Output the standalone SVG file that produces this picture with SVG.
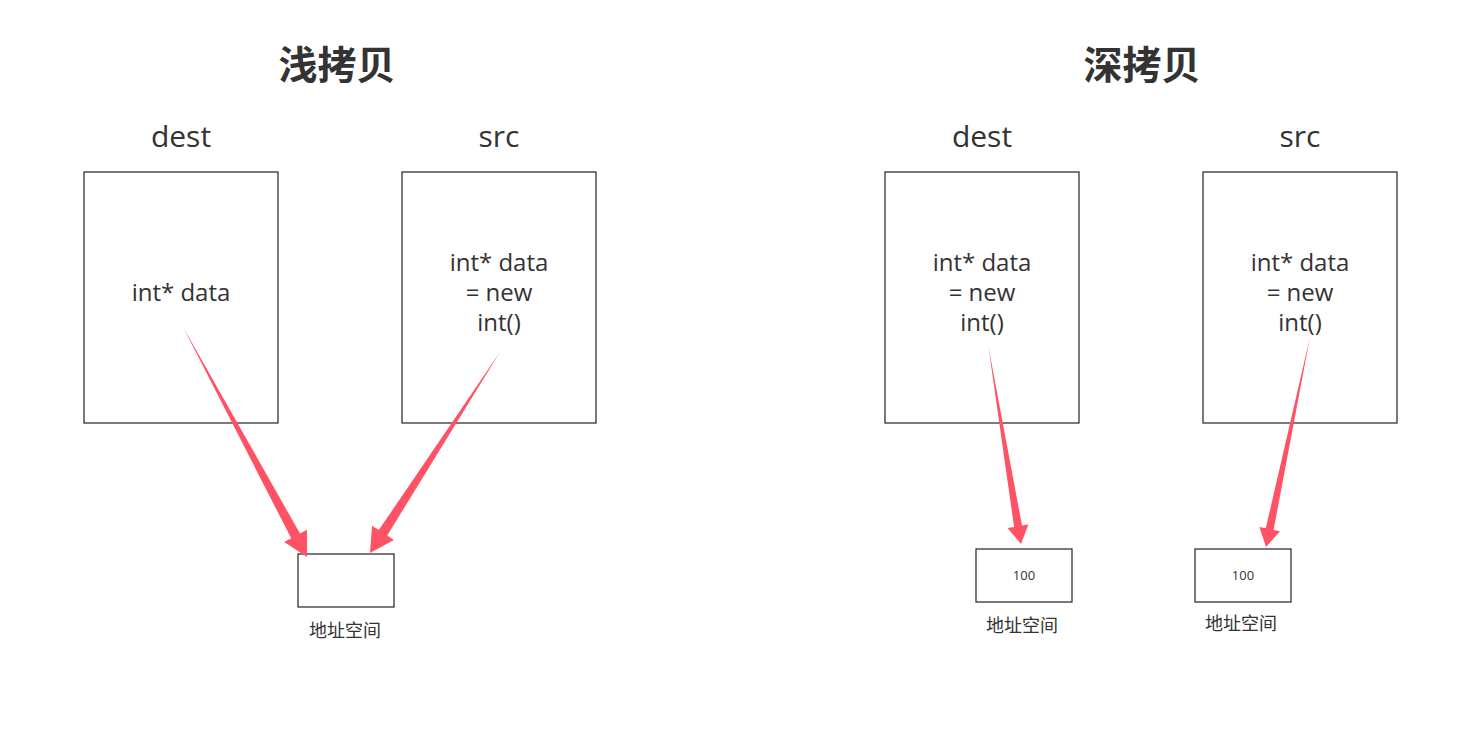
<svg xmlns="http://www.w3.org/2000/svg" width="1470" height="745" viewBox="0 0 1470 745">
<style>
.box{fill:#fff;stroke:#333;stroke-width:1.3}
.t{font-family:"Open Sans","Noto Sans","Noto Sans CJK SC",sans-serif;fill:#333;text-anchor:middle}
.title{font-family:"Noto Sans CJK SC","Noto Sans",sans-serif;font-weight:bold;font-size:39px;fill:#333;text-anchor:middle}
.name{font-size:30px}
.code{font-size:24px}
.lbl{font-family:"Noto Sans CJK SC",sans-serif;font-size:18px}
.num{font-size:13px}
.arr{fill:#ff5264}
</style>
<rect width="1470" height="745" fill="#fff"/>
<text class="title" x="337" y="79">浅拷贝</text>
<text class="title" x="1142" y="79">深拷贝</text>
<g id="s-dest">
<text class="t name" x="181" y="147">dest</text>
<rect class="box" x="84" y="172" width="194" height="251"/>
<text class="t code" x="181" y="301">int* data</text>
</g>
<g id="s-src">
<text class="t name" x="499" y="147">src</text>
<rect class="box" x="402" y="172" width="194" height="251"/>
<text class="t code" x="499" y="271">int* data</text>
<text class="t code" x="499" y="301">= new</text>
<text class="t code" x="499" y="331">int()</text>
</g>
<g id="s-mem">
<rect class="box" x="298" y="554" width="96" height="53"/>
<text class="t lbl" x="345" y="637">地址空间</text>
</g>
<g id="d-dest">
<text class="t name" x="982" y="147">dest</text>
<rect class="box" x="885" y="172" width="194" height="251"/>
<text class="t code" x="982" y="271">int* data</text>
<text class="t code" x="982" y="301">= new</text>
<text class="t code" x="982" y="331">int()</text>
</g>
<g id="d-src">
<text class="t name" x="1300" y="147">src</text>
<rect class="box" x="1203" y="172" width="194" height="251"/>
<text class="t code" x="1300" y="271">int* data</text>
<text class="t code" x="1300" y="301">= new</text>
<text class="t code" x="1300" y="331">int()</text>
</g>
<g id="d-mem1">
<rect class="box" x="976" y="549" width="96" height="53"/>
<text class="t num" x="1024" y="580">100</text>
<text class="t lbl" x="1022" y="632">地址空间</text>
</g>
<g id="d-mem2">
<rect class="box" x="1195" y="549" width="96" height="53"/>
<text class="t num" x="1243" y="580">100</text>
<text class="t lbl" x="1241" y="630">地址空间</text>
</g>
<g id="connectors">
<polygon class="arr" points="183,327 300,533.5 307,529.7 307,557 284.2,542.1 291.2,538.3"/>
<polygon class="arr" points="500,352 387.2,535.5 393.9,539.9 370,553 372.1,525.7 378.8,530.1"/>
<polygon class="arr" points="988.5,347 1022,525.6 1028.4,524.5 1021,544 1007.6,528.1 1014.1,527"/>
<polygon class="arr" points="1310,337 1273.6,529.9 1280,531.3 1266,547 1259.4,526.9 1265.8,528.3"/>
</g>
</svg>
